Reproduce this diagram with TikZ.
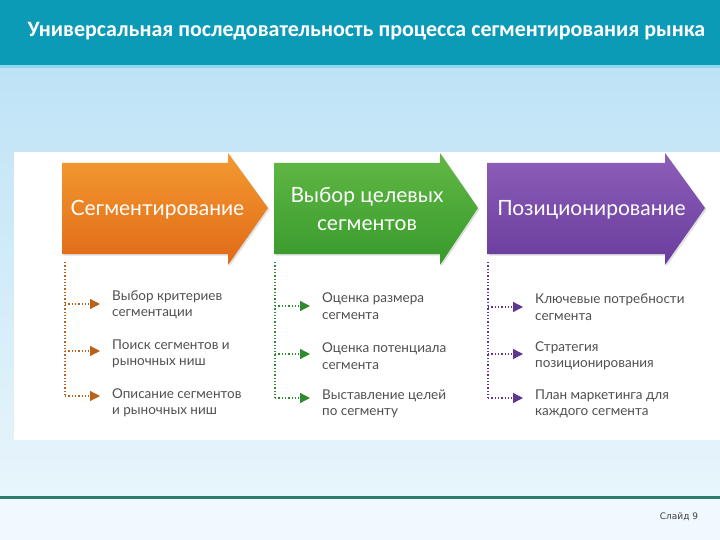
\documentclass[tikz,border=0pt]{standalone}
\usepackage{fontspec}
\setmainfont{Lato}
\newfontfamily\titlefont{Carlito}
\newfontfamily\slidefont{DejaVu Sans}
\usetikzlibrary{arrows.meta,shadows,calc}
\definecolor{hdr}{HTML}{0C9BB7}
\definecolor{strip}{HTML}{8ED6EC}
\definecolor{bgtop}{HTML}{BEE3F6}
\definecolor{bgbot}{HTML}{E8F5FC}
\definecolor{bgfoot}{HTML}{F0F9FD}
\definecolor{footline}{HTML}{2E7C69}
\definecolor{orA}{HTML}{F49A30}
\definecolor{orB}{HTML}{E06A18}
\definecolor{grA}{HTML}{62B845}
\definecolor{grB}{HTML}{379A2B}
\definecolor{puA}{HTML}{8D5FBA}
\definecolor{puB}{HTML}{6A3C9C}
\definecolor{orD}{HTML}{B8621C}
\definecolor{grD}{HTML}{2F8A30}
\definecolor{puD}{HTML}{5E3890}
\definecolor{itemtext}{HTML}{505050}
\newcommand\procarrow[3]{(#1,163) -- (#2,163) -- (#2,153) -- (#3,208) -- (#2,265) -- (#2,254) -- (#1,254) -- cycle}
\tikzset{
  headtext/.style={text=white, font=\fontsize{21}{28}\selectfont, align=center, inner sep=0},
  itemnode/.style={text=itemtext, font=\fontsize{13.5}{16.5}\selectfont, align=left, anchor=west, inner sep=0},
  vdots/.style={dotted, line width=1.3pt},
  conn/.style={dotted, line width=1.3pt, shorten >=12pt, -{Triangle[length=10pt,width=10pt]}},
  boxshadow/.style={drop shadow={opacity=0.25, shadow xshift=1.5pt, shadow yshift=-1.5pt}}
}
\begin{document}
\begin{tikzpicture}[x=1pt,y=-1pt]
\useasboundingbox (0,0) rectangle (720,540);
% background
\shade[top color=bgtop, bottom color=bgbot] (0,65) rectangle (720,497);
\fill[bgfoot] (0,497) rectangle (720,540);
\fill[hdr] (0,0) rectangle (720,65);
\fill[strip] (0,65) rectangle (720,68);
\fill[footline] (0,495.5) rectangle (720,498.5);
\node[text=white, font=\titlefont\bfseries\fontsize{22}{26}\selectfont, inner sep=0] (title) at (366.5,31) {Универсальная последовательность процесса сегментирования рынка};
% panel
\fill[white] (14,152) rectangle (720,440);
% big arrows
\shade[top color=orA, bottom color=orB, boxshadow] \procarrow{62}{228}{268};
\shade[top color=grA, bottom color=grB, boxshadow] \procarrow{274}{440}{478};
\shade[top color=puA, bottom color=puB, boxshadow] \procarrow{487}{665}{705};
\node[headtext] (h1) at (157.5,210) {Сегментирование};
\node[headtext] (h2) at (367,209) {Выбор целевых\\сегментов};
\node[headtext] (h3) at (591.5,210) {Позиционирование};
% column 1
\coordinate (o0) at (65,262);
\coordinate (o1) at (65,304);
\coordinate (o2) at (65,351);
\coordinate (o3) at (65,396);
\node[itemnode] (oi1) at (112,305) {Выбор критериев\\сегментации};
\node[itemnode] (oi2) at (112,354) {Поиск сегментов и\\рыночных ниш};
\node[itemnode] (oi3) at (112,403) {Описание сегментов\\и рыночных ниш};
\draw[vdots, orD] (o0) -- (o3);
\draw[conn, orD] (o1) -- (o1 -| oi1.west);
\draw[conn, orD] (o2) -- (o2 -| oi2.west);
\draw[conn, orD] (o3) -- (o3 -| oi3.west);
% column 2
\coordinate (g0) at (275,262);
\coordinate (g1) at (275,306);
\coordinate (g2) at (275,354);
\coordinate (g3) at (275,398);
\node[itemnode] (gi1) at (322,306) {Оценка размера\\сегмента};
\node[itemnode] (gi2) at (322,356) {Оценка потенциала\\сегмента};
\node[itemnode] (gi3) at (322,404) {Выставление целей\\по сегменту};
\draw[vdots, grD] (g0) -- (g3);
\draw[conn, grD] (g1) -- (g1 -| gi1.west);
\draw[conn, grD] (g2) -- (g2 -| gi2.west);
\draw[conn, grD] (g3) -- (g3 -| gi3.west);
% column 3
\coordinate (p0) at (488,262);
\coordinate (p1) at (488,307);
\coordinate (p2) at (488,354);
\coordinate (p3) at (488,398);
\node[itemnode] (pi1) at (535,307) {Ключевые потребности\\сегмента};
\node[itemnode] (pi2) at (535,356) {Стратегия\\позиционирования};
\node[itemnode] (pi3) at (535,404) {План маркетинга для\\каждого сегмента};
\draw[vdots, puD] (p0) -- (p3);
\draw[conn, puD] (p1) -- (p1 -| pi1.west);
\draw[conn, puD] (p2) -- (p2 -| pi2.west);
\draw[conn, puD] (p3) -- (p3 -| pi3.west);
% slide number
\node[text=black!75, font=\slidefont\fontsize{9}{11}\selectfont, inner sep=0] (slide) at (679,517) {Слайд 9};
\end{tikzpicture}
\end{document}
